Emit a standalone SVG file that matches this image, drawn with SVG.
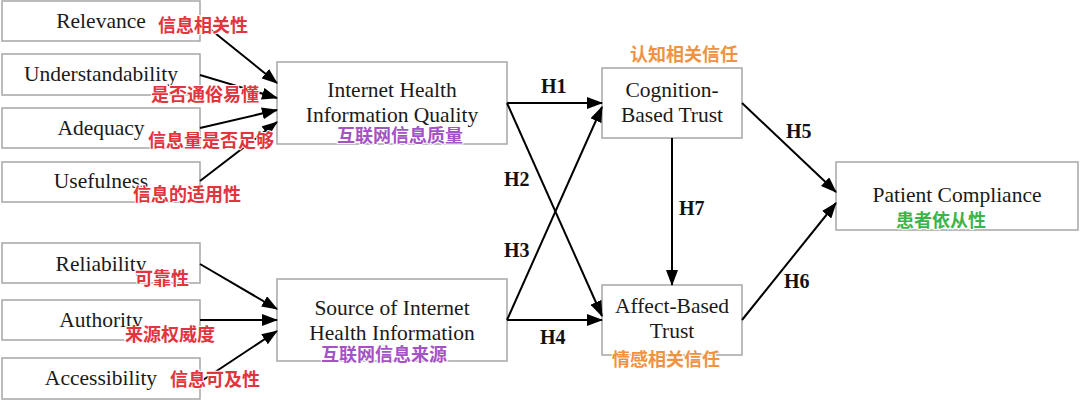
<svg xmlns="http://www.w3.org/2000/svg" width="1080" height="401" viewBox="0 0 1080 401">
<style>
.box{fill:#fff;stroke:#a6a6a6;stroke-width:1.5}
.en{font-family:"Liberation Serif","Times New Roman",serif;font-size:21.5px;fill:#1a1a1a;text-anchor:middle}
.h{font-family:"Liberation Serif","Times New Roman",serif;font-size:20px;font-weight:bold;fill:#111}
.cn{font-family:"Noto Sans CJK SC",sans-serif;font-size:18px;font-weight:bold;paint-order:stroke;stroke:#fff;stroke-width:2px}
.red{fill:#e2343c}
.pur{fill:#a452c4}
.org{fill:#f0923e}
.grn{fill:#3bb54a}
.c line{stroke:#000;stroke-width:2;marker-end:url(#ah)}
</style>
<defs>
<marker id="ah" markerUnits="userSpaceOnUse" markerWidth="16" markerHeight="12" refX="15" refY="6" orient="auto">
<path d="M0,0 L16,6 L0,12 z" fill="#000"/>
</marker>
</defs>
<rect width="1080" height="401" fill="#fff"/>
<g id="relevance"><rect class="box" x="2" y="1" width="198" height="40"/><text class="en" x="101" y="28">Relevance</text></g>
<g id="understandability"><rect class="box" x="2" y="54" width="198" height="41"/><text class="en" x="101" y="81">Understandability</text></g>
<g id="adequacy"><rect class="box" x="2" y="108" width="198" height="40"/><text class="en" x="101" y="135">Adequacy</text></g>
<g id="usefulness"><rect class="box" x="2" y="162" width="198" height="40"/><text class="en" x="101" y="188">Usefulness</text></g>
<g id="reliability"><rect class="box" x="2" y="243" width="198" height="40"/><text class="en" x="101" y="271">Reliability</text></g>
<g id="authority"><rect class="box" x="2" y="300" width="198" height="40"/><text class="en" x="101" y="327">Authority</text></g>
<g id="accessibility"><rect class="box" x="2" y="358" width="198" height="41"/><text class="en" x="101" y="385">Accessibility</text></g>
<g id="ihiq"><rect class="box" x="277" y="62" width="230" height="82"/><text class="en" x="392" y="97">Internet Health</text><text class="en" x="392" y="122">Information Quality</text></g>
<g id="sihi"><rect class="box" x="277" y="279" width="230" height="82"/><text class="en" x="392" y="315">Source of Internet</text><text class="en" x="392" y="340">Health Information</text></g>
<g id="cbt"><rect class="box" x="602" y="68" width="140" height="70"/><text class="en" x="672" y="97">Cognition-</text><text class="en" x="672" y="122">Based Trust</text></g>
<g id="abt"><rect class="box" x="602" y="285" width="140" height="70"/><text class="en" x="672" y="313">Affect-Based</text><text class="en" x="672" y="338">Trust</text></g>
<g id="pc"><rect class="box" x="836" y="162" width="242" height="68"/><text class="en" x="957" y="202">Patient Compliance</text></g>
<g class="c" id="connectors">
<line x1="200" y1="21" x2="277" y2="83"/>
<line x1="200" y1="75" x2="277" y2="98"/>
<line x1="200" y1="128" x2="277" y2="110"/>
<line x1="200" y1="181" x2="277" y2="122"/>
<line x1="200" y1="264" x2="277" y2="309"/>
<line x1="200" y1="320" x2="277" y2="320"/>
<line x1="200" y1="382" x2="277" y2="331"/>
<line x1="507" y1="103" x2="602" y2="103"/>
<line x1="507" y1="103" x2="602" y2="316"/>
<line x1="507" y1="320" x2="602" y2="107"/>
<line x1="507" y1="320" x2="602" y2="320"/>
<line x1="672" y1="138" x2="672" y2="285"/>
<line x1="742" y1="103" x2="836" y2="192"/>
<line x1="742" y1="320" x2="836" y2="203"/>
</g>
<g id="hlabels">
<text class="h" x="541" y="93">H1</text>
<text class="h" x="504" y="186">H2</text>
<text class="h" x="504" y="257">H3</text>
<text class="h" x="540" y="344">H4</text>
<text class="h" x="786" y="138">H5</text>
<text class="h" x="784" y="288">H6</text>
<text class="h" x="679" y="215">H7</text>
</g>
<g id="cnlabels">
<text class="cn red" x="158" y="32">信息相关性</text>
<text class="cn red" x="151" y="101">是否通俗易懂</text>
<text class="cn red" x="148" y="147">信息量是否足够</text>
<text class="cn red" x="133" y="201">信息的适用性</text>
<text class="cn red" x="135" y="285">可靠性</text>
<text class="cn red" x="125" y="341">来源权威度</text>
<text class="cn red" x="170" y="386">信息可及性</text>
<text class="cn pur" x="337" y="142">互联网信息质量</text>
<text class="cn pur" x="321" y="361">互联网信息来源</text>
<text class="cn org" x="630" y="61">认知相关信任</text>
<text class="cn org" x="612" y="366">情感相关信任</text>
<text class="cn grn" x="896" y="227">患者依从性</text>
</g>
</svg>
